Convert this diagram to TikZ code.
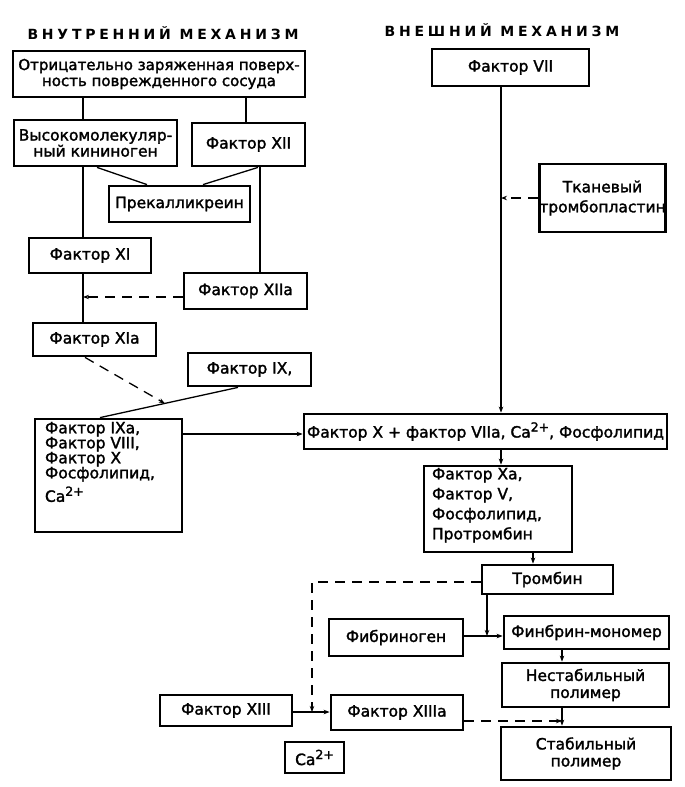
\documentclass[tikz,border=0pt]{standalone}
\usepackage{fontspec}
\setmainfont[FakeBold=1.8]{DejaVu Sans}
\newfontfamily\titlefont[LetterSpace=27]{DejaVu Sans Bold}
\usetikzlibrary{arrows.meta,calc}
\newcommand{\supr}[1]{\raisebox{6pt}{\fontsize{12.5}{12.5}\selectfont #1}}
\tikzset{
  box/.style={draw, line width=2.8pt, inner sep=0pt, align=center, font=\fontsize{15.5}{15}\selectfont},
  tbox/.style={draw, line width=2.8pt, inner sep=0pt},
  title/.style={inner sep=0pt, font=\titlefont\fontsize{14}{14}\selectfont},
  conn/.style={line width=1.3pt},
  arr/.style={line width=1.3pt, -{Stealth[length=6pt,width=4.5pt]}},
  dsh/.style={line width=1.3pt, dash pattern=on 10pt off 7pt},
  darr/.style={dsh, -{Stealth[length=6pt,width=4.5pt]}}
}
\begin{document}
\begin{tikzpicture}[x=1pt,y=-1pt]
\fill[white] (0,0) rectangle (685,787);
\useasboundingbox (0,0) rectangle (685,787);

% titles
\node[title] (t1) at (163,33) {ВНУТРЕННИЙ МЕХАНИЗМ};
\node[title] (t2) at (502,30) {ВНЕШНИЙ МЕХАНИЗМ};

% intrinsic
\node[box, minimum width=292pt, minimum height=46pt, font=\fontsize{15}{16}\selectfont] (surf) at (159,74) {Отрицательно заряженная поверх-\\ность поврежденного сосуда};
\node[box, minimum width=163pt, minimum height=46pt, font=\fontsize{15.5}{14.5}\selectfont] (hmk) at (95.5,143) {Высокомолекуляр-\\ный кининоген};
\node[box, minimum width=113pt, minimum height=43pt] (f12) at (248.5,144.5) {Фактор XII};
\node[box, minimum width=141pt, minimum height=36pt] (prek) at (179.5,204) {Прекалликреин};
\node[box, minimum width=122pt, minimum height=35pt] (f11) at (90,255.5) {Фактор XI};
\node[box, minimum width=123pt, minimum height=36pt] (f12a) at (245.5,291) {Фактор XIIa};
\node[box, minimum width=123pt, minimum height=33pt] (f11a) at (94.5,339.5) {Фактор XIa};
\node[box, minimum width=123pt, minimum height=33pt] (f9) at (249.5,369.5) {Фактор IX,};
\node[tbox, minimum width=147pt, minimum height=113pt, inner xsep=10pt] (big) at (108.5,475.5)
  {\parbox[c][113pt][t]{127pt}{\vspace*{3pt}\raggedright\fontsize{15.5}{15}\selectfont Фактор IXa,\\Фактор VIII,\\Фактор X\\Фосфолипид,\\[4pt]Ca\supr{2+}}};

% extrinsic
\node[box, minimum width=157pt, minimum height=37pt] (f7) at (510.5,67.5) {Фактор VII};
\node[box, minimum width=125pt, minimum height=68pt, font=\fontsize{15.5}{20}\selectfont] (tkan) at (602.5,198) {Тканевый\\тромбопластин};
\node[box, minimum width=363pt, minimum height=35pt] (fx) at (485.5,431.5) {Фактор X + фактор VIIa, Ca\supr{2+}, Фосфолипид};
\node[tbox, minimum width=148pt, minimum height=86pt, inner xsep=8pt] (xa) at (498,509)
  {\parbox[c][86pt][t]{132pt}{\vspace*{2pt}\raggedright\fontsize{15.5}{20}\selectfont Фактор Xa,\\Фактор V,\\Фосфолипид,\\Протромбин}};

% common pathway
\node[box, minimum width=131pt, minimum height=29pt] (trom) at (547.5,579.5) {Тромбин};
\node[box, minimum width=134pt, minimum height=37pt] (fibgen) at (396,637.5) {Фибриноген};
\node[box, minimum width=165pt, minimum height=33pt] (mono) at (586.5,632.5) {Финбрин-мономер};
\node[box, minimum width=167pt, minimum height=44pt, font=\fontsize{15.5}{17}\selectfont] (nest) at (585.5,685) {Нестабильный\\полимер};
\node[box, minimum width=132pt, minimum height=31pt] (f13) at (226,710.5) {Фактор XIII};
\node[box, minimum width=132pt, minimum height=35pt] (f13a) at (397,712.5) {Фактор XIIIa};
\node[box, minimum width=170pt, minimum height=53pt, font=\fontsize{15.5}{17}\selectfont] (stab) at (586,753.5) {Стабильный\\полимер};
\node[box, minimum width=59pt, minimum height=31pt] (ca) at (314.5,757.5) {Ca\supr{2+}};

% helper coordinates (columns / rows)
\coordinate (xA) at (83,0);
\coordinate (xB) at (246,0);
\coordinate (xC) at (260,0);
\coordinate (xP1) at (97,0);
\coordinate (xP2) at (147,0);
\coordinate (xP3) at (258,0);
\coordinate (xP4) at (203,0);
\coordinate (xD) at (501,0);
\coordinate (xE) at (533,0);
\coordinate (xF) at (487,0);
\coordinate (xG) at (562,0);
\coordinate (xH) at (312,0);
\coordinate (xI) at (85,0);
\coordinate (xJ) at (238,0);
\coordinate (xK) at (100,0);
\coordinate (yA) at (0,297);
\coordinate (yB) at (0,434);
\coordinate (yC) at (0,582);
\coordinate (yD) at (0,636);
\coordinate (yE) at (0,712);
\coordinate (yF) at (0,721);

% intrinsic connectors
\draw[conn] (surf.south -| xA) -- (hmk.north -| xA);
\draw[conn] (surf.south -| xB) -- (f12.north -| xB);
\draw[conn] (hmk.south -| xP1) -- (prek.north -| xP2);
\draw[conn] (f12.south -| xP3) -- (prek.north -| xP4);
\draw[conn] (hmk.south -| xA) -- (f11.north -| xA);
\draw[conn] (f12.south -| xC) -- (f12a.north -| xC);
\draw[conn] (f11.south -| xA) -- (f11a.north -| xA);
\coordinate (jA) at (f12a.west -| xA);
\draw[darr] (f12a.west |- yA) -- (jA |- yA);
\coordinate (s9) at (f9.south -| xJ);
\coordinate (sb) at (big.north -| xK);
\draw[conn] (s9) -- (sb);
\coordinate (pm) at ($(s9)!0.53!(sb)$);
\draw[darr] (f11a.south -| xI) -- (pm);
\draw[arr] (big.east |- yB) -- (fx.west |- yB);

% extrinsic connectors
\draw[arr] (f7.south -| xD) -- (fx.north -| xD);
\coordinate (jB) at (tkan.west -| xD);
\draw[darr] (tkan.west) -- (jB);
\draw[arr] (fx.south -| xD) -- (xa.north -| xD);
\draw[arr] (xa.south -| xE) -- (trom.north -| xE);

% common pathway connectors
\coordinate (jC) at (xF |- yD);
\draw[arr] (trom.south -| xF) -- (jC);
\draw[arr] (fibgen.east |- yD) -- (mono.west |- yD);
\draw[arr] (mono.south -| xG) -- (nest.north -| xG);
\draw[arr] (nest.south -| xG) -- (stab.north -| xG);
\draw[arr] (f13.east |- yE) -- (f13a.west |- yE);
\coordinate (jD) at (xH |- yE);
\draw[darr] (trom.west |- yC) -- (xH |- yC) -- (jD);
\coordinate (jE) at (xG |- yF);
\draw[darr] (f13a.east |- yF) -- (jE);
\end{tikzpicture}
\end{document}
